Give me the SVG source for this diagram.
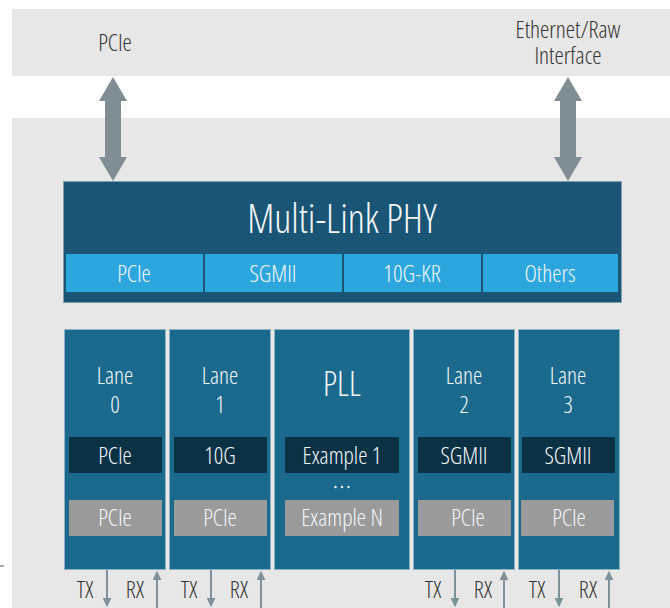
<svg xmlns="http://www.w3.org/2000/svg" width="670" height="608" viewBox="0 0 670 608">
<style>
text{font-family:"Open Sans","Noto Sans","Liberation Sans",sans-serif;font-stretch:87.5%;font-weight:340;text-anchor:middle;dominant-baseline:central}
.bg{fill:#e7e7e7}
.dk{fill:#333333;font-size:23.5px}
.wt{fill:#f2f7fa;font-size:23.5px}
.lane{fill:#1c698e;stroke:#8db2c6;stroke-width:1}
.blk{fill:#0b3145}
.gry{fill:#9a9a9a}
.sub{fill:#2ca6dd}
.thin{stroke:#7e929d;stroke-width:2;fill:none}
.big{fill:#7f8e95}
.dot{fill:#f2f7fa}
</style>
<defs>
<marker id="ah" viewBox="0 0 10 10" refX="9" refY="5" markerWidth="4.5" markerHeight="4.5" orient="auto-start-reverse" markerUnits="strokeWidth">
<path d="M0,0 L10,5 L0,10 z" fill="#7e929d"/>
</marker>
</defs>
<rect class="bg" x="12" y="9" width="658" height="67"/>
<rect class="bg" x="12" y="118" width="658" height="490"/>
<line x1="0" y1="566" x2="4" y2="566" stroke="#555" stroke-width="1"/>
<text class="dk" x="115" y="42">PCIe</text>
<text class="dk" x="568" y="29"><tspan x="568" y="29">Ethernet/Raw</tspan><tspan x="568" y="55">Interface</tspan></text>
<g id="connectors">
<path class="big" d="M113,77 L127,101 L121,101 L121,157 L127,157 L113,181 L99,157 L105,157 L105,101 L99,101 Z"/>
<path class="big" d="M568,77 L582,101 L576,101 L576,157 L582,157 L568,181 L554,157 L560,157 L560,101 L554,101 Z"/>
<line class="thin" x1="107" y1="570" x2="107" y2="606" marker-end="url(#ah)"/>
<line class="thin" x1="157" y1="608" x2="157" y2="572" marker-end="url(#ah)"/>
<line class="thin" x1="211" y1="570" x2="211" y2="606" marker-end="url(#ah)"/>
<line class="thin" x1="261" y1="608" x2="261" y2="572" marker-end="url(#ah)"/>
<line class="thin" x1="455" y1="570" x2="455" y2="606" marker-end="url(#ah)"/>
<line class="thin" x1="504" y1="608" x2="504" y2="572" marker-end="url(#ah)"/>
<line class="thin" x1="559" y1="570" x2="559" y2="606" marker-end="url(#ah)"/>
<line class="thin" x1="609" y1="608" x2="609" y2="572" marker-end="url(#ah)"/>
<text class="dk" x="85" y="589">TX</text><text class="dk" x="135" y="589">RX</text>
<text class="dk" x="189" y="589">TX</text><text class="dk" x="239" y="589">RX</text>
<text class="dk" x="433" y="589">TX</text><text class="dk" x="483" y="589">RX</text>
<text class="dk" x="537" y="589">TX</text><text class="dk" x="588" y="589">RX</text>
</g>
<g id="phy">
<rect x="63.5" y="181.5" width="558" height="121" fill="#1a5576" stroke="#7e9fb2" stroke-width="1"/>
<text x="342" y="217" fill="#f2f7fa" font-size="40" style="font-stretch:82%">Multi-Link PHY</text>
<rect class="sub" x="66" y="254" width="137" height="38"/>
<rect class="sub" x="205" y="254" width="137" height="38"/>
<rect class="sub" x="344" y="254" width="137" height="38"/>
<rect class="sub" x="483" y="254" width="135" height="38"/>
<text class="wt" x="134" y="273">PCIe</text>
<text class="wt" x="273" y="273">SGMII</text>
<text class="wt" x="412" y="273">10G-KR</text>
<text class="wt" x="550" y="273">Others</text>
</g>
<g id="lane0">
<rect class="lane" x="64.5" y="329.5" width="101" height="240"/>
<text class="wt" x="115" y="375">Lane</text><text class="wt" x="115" y="404">0</text>
<rect class="blk" x="69" y="437" width="93" height="36"/><text class="wt" x="115" y="455">PCIe</text>
<rect class="gry" x="69" y="500" width="93" height="36"/><text class="wt" x="115" y="517">PCIe</text>
</g>
<g id="lane1">
<rect class="lane" x="169.5" y="329.5" width="101" height="240"/>
<text class="wt" x="220" y="375">Lane</text><text class="wt" x="220" y="404">1</text>
<rect class="blk" x="174" y="437" width="93" height="36"/><text class="wt" x="220" y="455">10G</text>
<rect class="gry" x="174" y="500" width="93" height="36"/><text class="wt" x="220" y="517">PCIe</text>
</g>
<g id="pll">
<rect class="lane" x="274.5" y="329.5" width="135" height="240"/>
<text x="342" y="383" fill="#f2f7fa" font-size="34">PLL</text>
<rect class="blk" x="285" y="437" width="114" height="36"/><text class="wt" x="342" y="455">Example 1</text>
<circle class="dot" cx="335.5" cy="487" r="1.2"/><circle class="dot" cx="342" cy="487" r="1.2"/><circle class="dot" cx="348.5" cy="487" r="1.2"/>
<rect class="gry" x="285" y="500" width="114" height="36"/><text class="wt" x="342" y="517">Example N</text>
</g>
<g id="lane2">
<rect class="lane" x="413.5" y="329.5" width="101" height="240"/>
<text class="wt" x="464" y="375">Lane</text><text class="wt" x="464" y="404">2</text>
<rect class="blk" x="418" y="437" width="93" height="36"/><text class="wt" x="464" y="455">SGMII</text>
<rect class="gry" x="418" y="500" width="93" height="36"/><text class="wt" x="468" y="517">PCIe</text>
</g>
<g id="lane3">
<rect class="lane" x="518.5" y="329.5" width="101" height="240"/>
<text class="wt" x="568" y="375">Lane</text><text class="wt" x="568" y="404">3</text>
<rect class="blk" x="522" y="437" width="93" height="36"/><text class="wt" x="568" y="455">SGMII</text>
<rect class="gry" x="521" y="500" width="93" height="36"/><text class="wt" x="569" y="517">PCIe</text>
</g>
</svg>
